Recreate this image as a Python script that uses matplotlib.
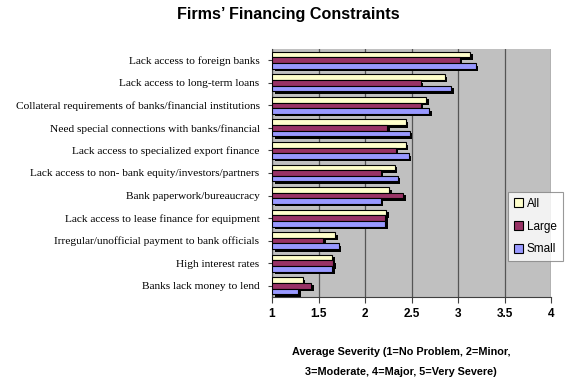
import matplotlib
matplotlib.use("Agg")
import matplotlib.pyplot as plt
import matplotlib.patheffects as pe
from matplotlib.patches import Patch
import numpy as np

categories = [
    "Lack access to foreign banks",
    "Lack access to long-term loans",
    "Collateral requirements of banks/financial institutions",
    "Need special connections with banks/financial",
    "Lack access to specialized export finance",
    "Lack access to non- bank equity/investors/partners",
    "Bank paperwork/bureaucracy",
    "Lack access to lease finance for equipment",
    "Irregular/unofficial payment to bank officials",
    "High interest rates",
    "Banks lack money to lend",
]
all_vals   = [3.13, 2.86, 2.66, 2.44, 2.44, 2.32, 2.26, 2.23, 1.68, 1.65, 1.33]
large_vals = [3.02, 2.60, 2.60, 2.24, 2.33, 2.17, 2.41, 2.22, 1.55, 1.66, 1.42]
small_vals = [3.19, 2.93, 2.69, 2.48, 2.47, 2.35, 2.17, 2.22, 1.72, 1.65, 1.28]
series_names = ["All", "Large", "Small"]
x_ticks = [1, 1.5, 2, 2.5, 3, 3.5, 4]
x_tick_labels = ["1", "1.5", "2", "2.5", "3", "3.5", "4"]

colors = ["#FFFFCC", "#993366", "#9999FF"]

W, H = 577, 380
fig = plt.figure(figsize=(W / 100, H / 100), dpi=100)
fig.patch.set_facecolor("white")

ax = fig.add_axes([272 / W, 1 - 297 / H, 279 / W, (297 - 49) / H])
ax.set_facecolor("#C0C0C0")

n = len(categories)
y = np.arange(n)
h = 0.25
shadow = [pe.SimplePatchShadow(offset=(1.8, -1.8), shadow_rgbFace="black", alpha=1.0), pe.Normal()]
for i, (vals, c) in enumerate(zip([all_vals, large_vals, small_vals], colors)):
    bars = ax.barh(y + (i - 1) * h, np.array(vals) - 1, left=1, height=h,
                   color=c, edgecolor="black", linewidth=0.8, zorder=3)
    for b in bars:
        b.set_path_effects(shadow)

ax.set_xlim(1, 4)
ax.set_ylim(n - 0.5, -0.5)
ax.set_xticks(x_ticks)
ax.set_xticklabels(x_tick_labels, fontsize=8.5, fontweight="bold", family="Liberation Sans")
ax.set_yticks(y)
ax.set_yticklabels(categories, fontsize=8.2, family="Liberation Serif")
ax.tick_params(axis="y", length=3, pad=6, color="#404040")
ax.tick_params(axis="x", length=4, pad=4, color="#404040")
ax.grid(axis="x", color="#555555", linewidth=0.9, zorder=0)
ax.set_axisbelow(True)
for s in ["top", "right"]:
    ax.spines[s].set_visible(False)
for s in ["left", "bottom"]:
    ax.spines[s].set_color("#404040")

fig.text(288 / W, 1 - 14 / H, "Firms\u2019 Financing Constraints", ha="center", va="center",
         fontsize=11.6, fontweight="bold", family="Liberation Sans")
fig.text(401 / W, 1 - 352 / H, "Average Severity (1=No Problem, 2=Minor,", ha="center", va="center",
         fontsize=7.8, fontweight="bold", family="Liberation Sans")
fig.text(401 / W, 1 - 372 / H, "3=Moderate, 4=Major, 5=Very Severe)", ha="center", va="center",
         fontsize=7.8, fontweight="bold", family="Liberation Sans")

handles = [Patch(facecolor=c, edgecolor="black", linewidth=0.8) for c in colors]
leg = fig.legend(handles, series_names, loc="upper left",
                 bbox_to_anchor=(508 / W, 1 - 192 / H), frameon=True, fancybox=False,
                 prop={"family": "Liberation Sans", "size": 8.5}, handlelength=0.8,
                 handleheight=0.8, handletextpad=0.3, labelspacing=0.9,
                 borderpad=0.5, borderaxespad=0)
leg.get_frame().set_edgecolor("#808080")
leg.get_frame().set_linewidth(0.8)

fig.savefig("out.png", dpi=100)
